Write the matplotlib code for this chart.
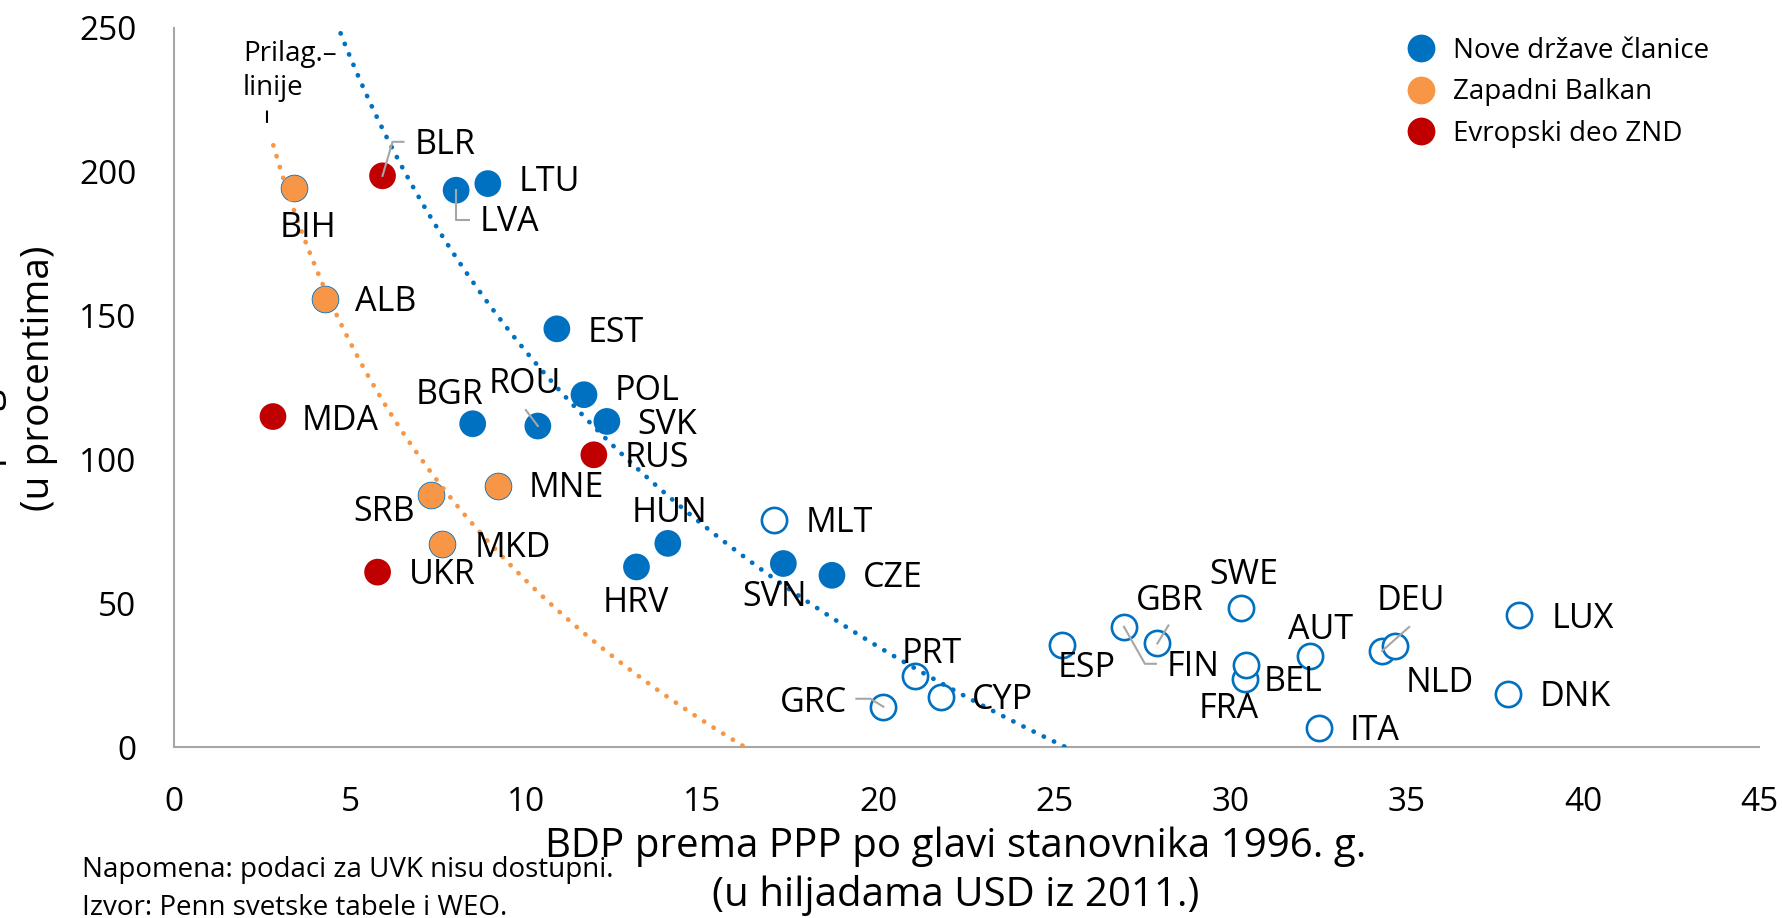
import numpy as np
import matplotlib
matplotlib.use("Agg")
import matplotlib.pyplot as plt
from matplotlib.lines import Line2D
from matplotlib.transforms import IdentityTransform

plt.rcParams['font.family'] = ['Open Sans', 'DejaVu Sans']

# ---------------- data ----------------
# Nove države članice (new member states)
nms_names = ["LTU", "LVA", "EST", "POL", "SVK", "BGR", "ROU", "HUN", "HRV", "SVN", "CZE"]
nms_x = [8.91, 8.01, 10.87, 11.64, 12.29, 8.48, 10.33, 14.02, 13.13, 17.30, 18.68]
nms_y = [195.9, 193.6, 145.4, 122.5, 113.2, 112.4, 111.6, 70.8, 62.6, 63.8, 59.7]

# Zapadni Balkan
wb_names = ["BIH", "ALB", "SRB", "MNE", "MKD"]
wb_x = [3.41, 4.30, 7.29, 9.19, 7.62]
wb_y = [194.5, 155.6, 87.5, 90.7, 70.7]

# Evropski deo ZND
cis_names = ["BLR", "MDA", "RUS", "UKR"]
cis_x = [5.92, 2.81, 11.92, 5.78]
cis_y = [198.6, 114.9, 101.6, 60.8]

# Old EU members (open circles, no legend entry)
eu_names = ["MLT", "PRT", "CYP", "GRC", "ESP", "FIN", "GBR", "SWE", "BEL", "FRA",
            "AUT", "ITA", "DEU", "NLD", "LUX", "DNK"]
eu_x = [17.04, 21.03, 21.77, 20.14, 25.22, 26.97, 27.92, 30.29, 30.41, 30.43,
        32.25, 32.50, 34.30, 34.67, 38.19, 37.86]
eu_y = [78.8, 24.7, 17.5, 14.0, 35.5, 41.8, 36.0, 48.5, 23.6, 28.5,
        31.7, 6.5, 33.4, 35.1, 45.8, 18.5]

legend_labels = ["Nove države članice", "Zapadni Balkan", "Evropski deo ZND"]
x_ticks = [0, 5, 10, 15, 20, 25, 30, 35, 40, 45]
y_ticks = [0, 50, 100, 150, 200, 250]

# start of the fitted (logarithmic) trend lines
nms_fit_xmin = 4.5
wb_fit_xmin = 2.82

# ---------------- style ----------------
BLUE = "#0070C0"
ORANGE = "#F79646"
RED = "#C00000"
GRAY = "#A6A6A6"

# label offsets in pixels (dx, dy, ha) relative to the marker centre
label_off = {
    "LTU": (31, 2, "left"), "LVA": (23, -32, "left"), "EST": (31, -4, "left"),
    "POL": (31, 4, "left"), "SVK": (30, -4, "left"), "BGR": (-57, 29, "left"),
    "ROU": (-49, 42, "left"), "HUN": (-36, 30, "left"), "HRV": (-34, -36, "left"),
    "SVN": (-41, -33, "left"), "CZE": (31, -3, "left"),
    "BIH": (-14, -40, "left"), "ALB": (30, -3, "left"), "SRB": (-16, -17, "right"),
    "MNE": (31, -2, "left"), "MKD": (32, -4, "left"),
    "BLR": (32, 31, "left"), "MDA": (29, -4, "left"), "RUS": (31, -3, "left"),
    "UKR": (31, -3, "left"),
    "MLT": (31, -3, "left"), "PRT": (-13, 22, "left"), "CYP": (31, -3, "left"),
    "GRC": (-36, 4, "right"), "ESP": (-5, -23, "left"), "FIN": (43, -40, "left"),
    "GBR": (-22, 42, "left"), "SWE": (-32, 33, "left"), "BEL": (19, -3, "left"),
    "FRA": (-47, -44, "left"), "AUT": (-22, 26, "left"), "ITA": (31, -3, "left"),
    "DEU": (-5, 50, "left"), "NLD": (10, -37, "left"), "LUX": (32, -4, "left"),
    "DNK": (32, -3, "left"),
}
# leader lines, pixel offsets relative to the marker centre
leaders = {
    "BLR": [(0, 0), (10, 34), (21, 34)],
    "LVA": [(0, 0), (0, -30), (13, -30)],
    "ROU": [(0, 0), (-12, 16)],
    "GRC": [(-27, 8), (-13, 8), (0, 0)],
    "FIN": [(0, 0), (21, -37), (32, -37)],
    "GBR": [(0, 0), (11, 18)],
    "DEU": [(0, 0), (27, 24)],
}

W, H = 1783, 918
fig = plt.figure(figsize=(W / 100, H / 100), dpi=100)
ax = fig.add_axes([174 / W, (H - 747) / H, (1759 - 174) / W, (747 - 28) / H])
ax.set_xlim(0, 45)
ax.set_ylim(0, 250)

ms_area = 370
ax.scatter(eu_x, eu_y, s=330, facecolors="white", edgecolors=BLUE, linewidths=1.9, zorder=3)
ax.scatter(nms_x, nms_y, s=ms_area, color=BLUE, edgecolors="none", zorder=3)
ax.scatter(wb_x, wb_y, s=ms_area, color=ORANGE, edgecolors=BLUE, linewidths=0.6, zorder=3)
ax.scatter(cis_x, cis_y, s=ms_area, color=RED, edgecolors="none", zorder=3)

# logarithmic trend lines fitted to the groups
def log_fit(xs, ys, xmin, color):
    b, a = np.polyfit(np.log(xs), ys, 1)
    xmax = np.exp(-a / b) * 1.02
    xx = np.linspace(xmin, xmax, 400)
    ax.plot(xx, a + b * np.log(xx), color=color, lw=3.4,
            linestyle=(0, (0.05, 2.35)), dash_capstyle="round", zorder=4)

log_fit(nms_x, nms_y, nms_fit_xmin, BLUE)
log_fit(wb_x, wb_y, wb_fit_xmin, ORANGE)

# labels
all_names = nms_names + wb_names + cis_names + eu_names
all_x = nms_x + wb_x + cis_x + eu_x
all_y = nms_y + wb_y + cis_y + eu_y
for n, x, y in zip(all_names, all_x, all_y):
    dx, dy, ha = label_off[n]
    ax.annotate(n, (x, y), xytext=(dx, dy), textcoords="offset pixels",
                ha=ha, va="center", fontsize=24.5, color="black", zorder=6)

fig.canvas.draw()
for n, offs in leaders.items():
    i = all_names.index(n)
    bx, by = ax.transData.transform((all_x[i], all_y[i]))
    xs = [bx + o[0] for o in offs]
    ys = [by + o[1] for o in offs]
    ax.add_line(Line2D(xs, ys, transform=IdentityTransform(), color=GRAY, lw=1.5, zorder=5))

# "Prilag. linije" annotation
ax.text(1.96, 235.0, "Prilag.–\nlinije", fontsize=20, va="center", ha="left",
        linespacing=1.3, zorder=6)
ax.annotate("", xy=(2.64, 216.3), xytext=(2.64, 222.0),
            arrowprops=dict(arrowstyle="-", color="black", lw=1.5))

# axes styling
for s in ["top", "right"]:
    ax.spines[s].set_visible(False)
for s in ["left", "bottom"]:
    ax.spines[s].set_color(GRAY)
    ax.spines[s].set_linewidth(1.5)
ax.set_xticks(x_ticks)
ax.set_yticks(y_ticks)
ax.tick_params(length=0, labelsize=24, colors="black")
ax.tick_params(axis="y", pad=27)
ax.tick_params(axis="x", pad=28)

# legend
handles = [Line2D([], [], marker="o", linestyle="none", markersize=20,
                  markerfacecolor=c, markeredgecolor="none") for c in (BLUE, ORANGE, RED)]
ax.legend(handles, legend_labels, loc="upper left", bbox_to_anchor=(1400 / W, 1 - 37 / H),
          bbox_transform=fig.transFigure, frameon=False, fontsize=20,
          handlelength=1.5, handletextpad=0.42, labelspacing=0.48, borderpad=0,
          borderaxespad=0)

# axis titles
fig.text(956 / W, 1 - 847 / H, "BDP prema PPP po glavi stanovnika 1996. g.",
         ha="center", va="center", fontsize=29)
fig.text(956 / W, 1 - 895 / H, "(u hiljadama USD iz 2011.)",
         ha="center", va="center", fontsize=29)
fig.text(39 / W, 1 - 378 / H, "(u procentima)", rotation=90,
         ha="center", va="center", fontsize=28)
fig.text(-12 / W, 1 - 378 / H, "Kumulativni rast BDP-a po glavi stanovnika 1996–2014. g.",
         rotation=90, ha="center", va="center", fontsize=28)

# notes
fig.text(82 / W, 1 - 870 / H, "Napomena: podaci za UVK nisu dostupni.",
         ha="left", va="center", fontsize=20)
fig.text(82 / W, 1 - 908 / H, "Izvor: Penn svetske tabele i WEO.",
         ha="left", va="center", fontsize=20)

fig.savefig("out.png", dpi=100)
